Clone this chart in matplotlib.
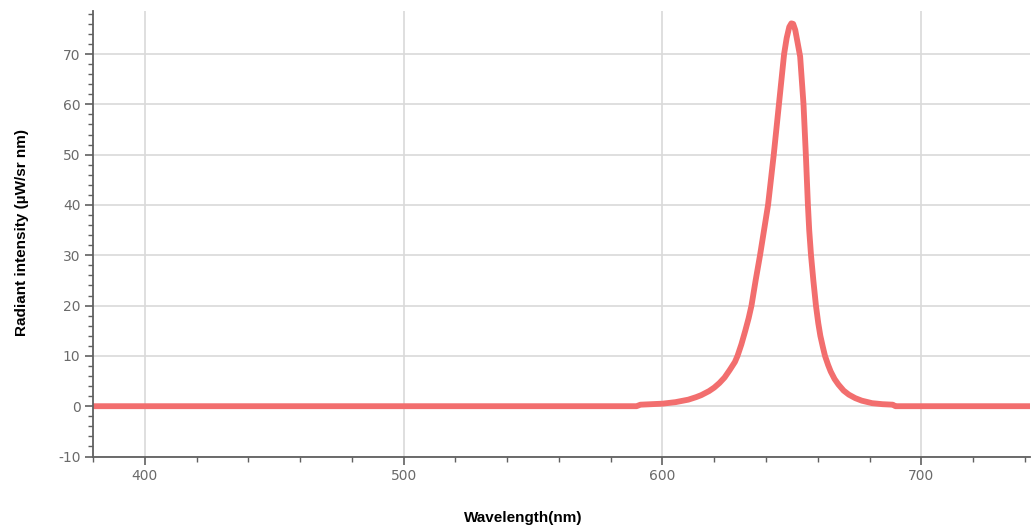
import matplotlib.pyplot as plt
from matplotlib.ticker import MultipleLocator

plt.rcParams['axes.unicode_minus'] = False

# spectrum
wavelength = [380, 500, 590, 591.5, 600, 605, 610, 613, 615, 618, 620, 622, 624,
              626, 628, 629, 630.5, 632, 633.3, 634.4, 636, 637.7, 640.8, 643,
              645, 646, 647, 648, 649, 649.8, 650.5, 651.3, 652.2, 653.2,
              654.5, 655.4, 656.2, 656.7, 657.4, 658.3, 659.3, 660.2, 661, 662,
              662.8, 664, 665, 666.5, 668, 670, 672, 674.5, 677, 681, 685, 689,
              690, 740, 742]
intensity = [0, 0, 0, 0.3, 0.5, 0.8, 1.3, 1.8, 2.2, 3.0, 3.7, 4.6, 5.7,
             7.2, 8.8, 10, 12.3, 15, 17.5, 20, 25, 30, 40, 50,
             60, 65, 70, 73.2, 75.4, 76.1, 76.0, 74.8, 72.3, 69.5,
             60, 50, 40, 35, 30, 25, 20, 16.5, 14, 11.7,
             10, 8.2, 6.9, 5.4, 4.3, 3.1, 2.3, 1.6, 1.1, 0.6, 0.4, 0.3,
             0, 0, 0]

x_major = [400, 500, 600, 700]
y_major = [-10, 0, 10, 20, 30, 40, 50, 60, 70]

fig = plt.figure(figsize=(10.35, 5.31), dpi=100)
ax = fig.add_axes([93/1035, 1 - 456.5/531, (1030 - 93)/1035, (456.5 - 10.8)/531])

ax.plot(wavelength, intensity, color='#f26e6e', linewidth=4.2,
        solid_joinstyle='round', solid_capstyle='butt')

ax.set_xlim(380, 742)
ax.set_ylim(-10, 78.6)
ax.set_xticks(x_major)
ax.set_yticks(y_major)
ax.xaxis.set_minor_locator(MultipleLocator(20))
ax.yaxis.set_minor_locator(MultipleLocator(2))

ax.grid(True, which='major', color='#d9d9d9', linewidth=1.2)
ax.set_axisbelow(True)

for side in ['top', 'right']:
    ax.spines[side].set_visible(False)
for side in ['left', 'bottom']:
    ax.spines[side].set_color('#606060')
    ax.spines[side].set_linewidth(1.3)

ax.tick_params(which='major', length=6, width=1.2, color='#606060',
               labelcolor='#6a6a6a', labelsize=10, pad=3)
ax.tick_params(which='minor', length=3.5, width=1.0, color='#606060')

fig.text(523/1035, 1 - 518/531, 'Wavelength(nm)', ha='center', va='center',
         fontsize=11, fontweight='bold', family='Liberation Sans')
fig.text(22/1035, 1 - 232/531, 'Radiant intensity (\u00b5W/sr nm)', ha='center',
         va='center', rotation=90, fontsize=11, fontweight='bold',
         family='Liberation Sans')

fig.savefig('out.png', dpi=100)
